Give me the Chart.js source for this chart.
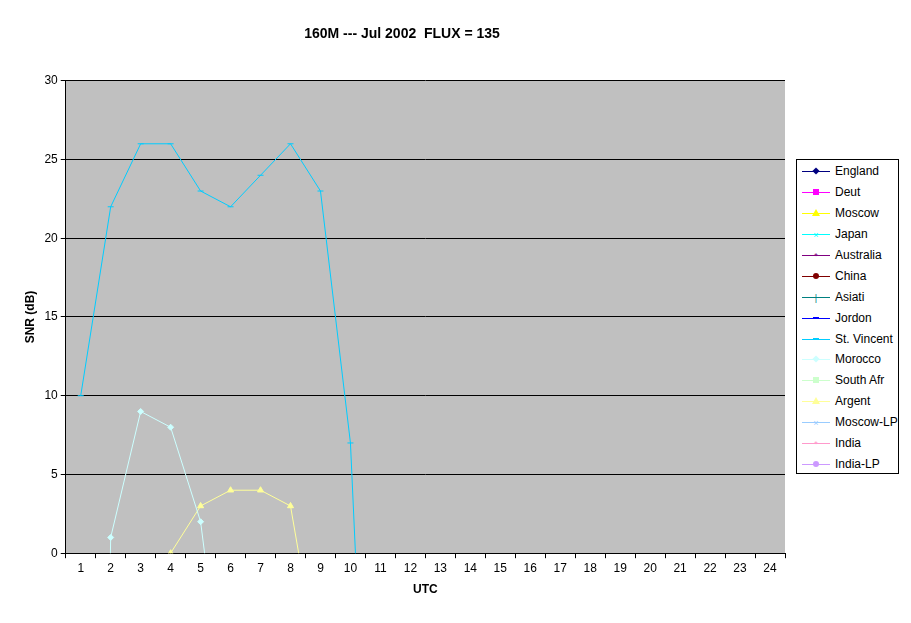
<!DOCTYPE html>
<html>
<head>
<meta charset="utf-8">
<script src="https://cdn.jsdelivr.net/npm/chart.js"></script>
<style>
  body { margin: 0; background: #fff; font-family: Arial, "Liberation Sans", sans-serif; }
  #wrap { position: relative; width: 911px; height: 623px; }
  #legend { position: absolute; left: 796px; top: 159px; width: 103px; height: 315px;
    border: 1px solid #000; background: #fff; box-sizing: border-box; padding-top: 1px; }
  .item { height: 20.9px; display: flex; align-items: center; font-size: 12px; }
  .sw { position: relative; width: 28px; height: 10px; margin: 0 5px 0 5px; }
  .sw .ln { position: absolute; left: 0; right: 0; top: 5px; border-top: 1px solid; }
  .sw .mk { position: absolute; left: 11px; top: 2px; width: 6px; height: 6px; }
</style>
</head>
<body>
<div id="wrap">
  <canvas id="chart" width="911" height="623"></canvas>
  <div id="legend"></div>
</div>
<script>
// ---- data ----
const hours = ['1','2','3','4','5','6','7','8','9','10','11','12','13','14','15','16','17','18','19','20','21','22','23','24'];
// values below 0 are "no signal" and get clipped by the axis minimum
const stVincent = [10, 22, 26, 26, 23, 22, 24, 26, 23, 7, -35];
const morocco = [-100, 1, 9, 8, 2, -13];
const argent = [null, null, -100, 0, 3, 4, 4, 3, -8];

const legendNames = ['England','Deut','Moscow','Japan','Australia','China','Asiati','Jordon','St. Vincent','Morocco','South Afr','Argent','Moscow-LP','India','India-LP'];
const legendColors = ['#000080','#FF00FF','#FFFF00','#00FFFF','#800080','#800000','#008080','#0000FF','#00CCFF','#CCFFFF','#CCFFCC','#FFFF99','#99CCFF','#FF99CC','#CC99FF'];
const legendMarks = ['diamond','square','triangle','x','star','circle','plus','dash','dash','diamond','square','triangle','x','star','circle'];

// ---- legend ----
const legendEl = document.getElementById('legend');
legendNames.forEach((name, i) => {
  const c = legendColors[i];
  const m = legendMarks[i];
  let mk = '';
  if (m === 'square') mk = `<div class="mk" style="background:${c}"></div>`;
  else if (m === 'circle') mk = `<div class="mk" style="background:${c};border-radius:50%"></div>`;
  else if (m === 'diamond') mk = `<div class="mk" style="background:${c};transform:rotate(45deg) scale(0.85)"></div>`;
  else if (m === 'triangle') mk = `<div class="mk" style="width:0;height:0;border-left:4px solid transparent;border-right:4px solid transparent;border-bottom:7px solid ${c};left:10px;top:1px"></div>`;
  else if (m === 'dash') mk = `<div class="mk" style="background:${c};height:2px;top:4px"></div>`;
  else mk = `<div class="mk" style="color:${c};font-size:9px;line-height:6px;text-align:center;top:3px">${m==='x'?'×':m==='plus'?'|':'*'}</div>`;
  legendEl.insertAdjacentHTML('beforeend',
    `<div class="item"><div class="sw"><div class="ln" style="border-color:${c}"></div>${mk}</div>${name}</div>`);
});

// ---- chart ----
const plotBg = {
  id: 'plotBg',
  beforeDraw(chart) {
    const { ctx, chartArea: a } = chart;
    ctx.save();
    ctx.fillStyle = '#C0C0C0';
    ctx.fillRect(a.left, a.top, a.right - a.left, a.bottom - a.top);
    ctx.restore();
  }
};

function ds(label, data, color, style, radius) {
  return { label, data, borderColor: color, backgroundColor: color, borderWidth: 1,
    pointStyle: style, pointRadius: radius, pointBorderColor: color, tension: 0, spanGaps: false };
}

new Chart(document.getElementById('chart'), {
  type: 'line',
  data: {
    labels: hours,
    datasets: [
      ds('St. Vincent', stVincent, '#00CCFF', 'line', 3),
      ds('Morocco', morocco, '#CCFFFF', 'rectRot', 3),
      ds('Argent', argent, '#FFFF99', 'triangle', 3.5),
    ]
  },
  options: {
    responsive: false,
    animation: false,
    layout: { padding: { left: 19, right: 126, top: 10, bottom: 22 } },
    plugins: {
      legend: { display: false },
      tooltip: { enabled: false },
      title: { display: true, text: '160M --- Jul 2002  FLUX = 135', color: '#000',
        font: { family: 'Arial', size: 14, weight: 'bold' }, padding: { top: 16, bottom: 38 } }
    },
    scales: {
      x: {
        offset: true,
        grid: { display: true, offset: true, drawOnChartArea: false, color: '#000', tickLength: 5 },
        border: { color: '#000' },
        ticks: { color: '#000', font: { family: 'Arial', size: 12 }, maxRotation: 0, autoSkip: false },
        title: { display: true, text: 'UTC', color: '#000', font: { family: 'Arial', size: 12, weight: 'bold' } }
      },
      y: {
        min: 0, max: 30,
        ticks: { stepSize: 5, color: '#000', font: { family: 'Arial', size: 12 } },
        grid: { color: '#000', tickLength: 5 },
        border: { color: '#000' },
        title: { display: true, text: 'SNR (dB)', color: '#000', font: { family: 'Arial', size: 12, weight: 'bold' } }
      }
    }
  },
  plugins: [plotBg]
});
</script>
</body>
</html>
